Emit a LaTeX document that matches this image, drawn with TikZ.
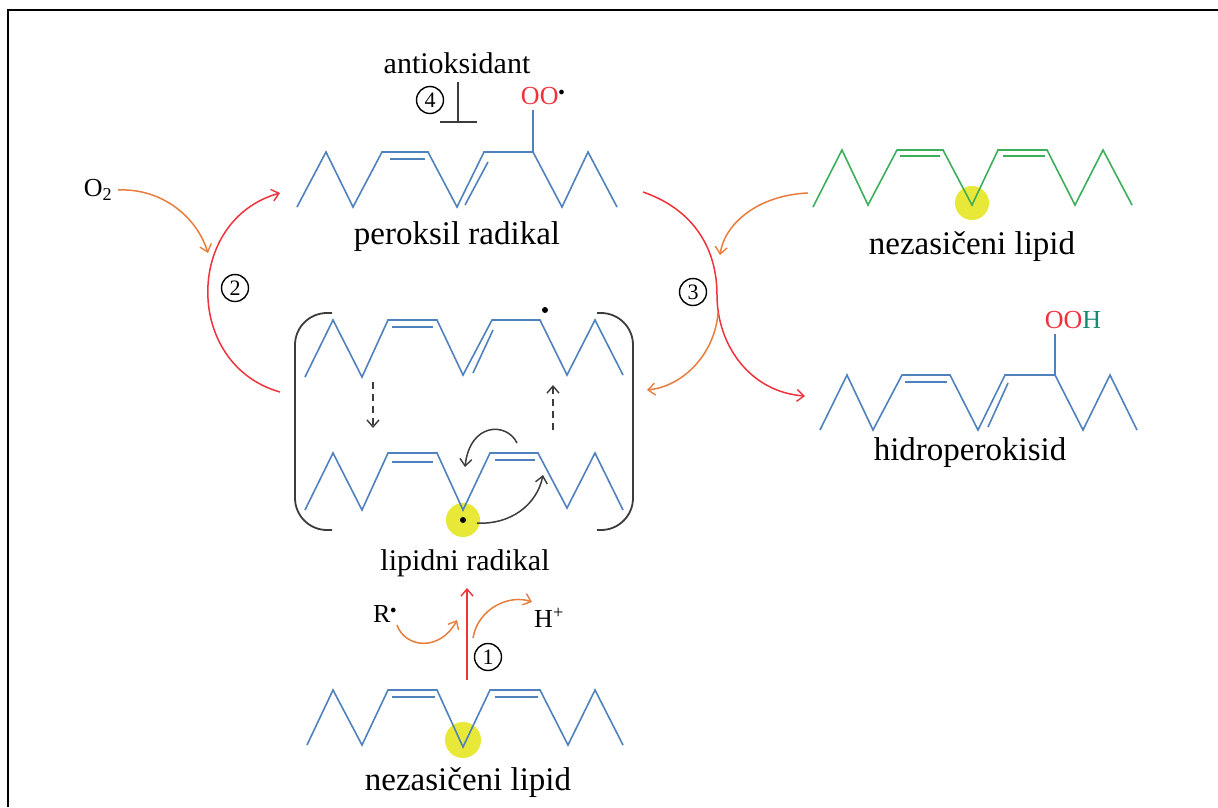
\documentclass[tikz,border=0pt]{standalone}
\usepackage{fontspec}
\setmainfont{Liberation Serif}
\usetikzlibrary{arrows.meta}
\definecolor{lblue}{RGB}{79,129,189}
\definecolor{lgreen}{RGB}{60,175,90}
\definecolor{lred}{RGB}{240,50,60}
\definecolor{lorange}{RGB}{232,125,60}
\definecolor{lyellow}{RGB}{232,232,56}
\definecolor{lteal}{RGB}{20,140,110}
\definecolor{lgray}{RGB}{60,60,60}
\newcommand{\raddot}{\textsuperscript{$\scriptstyle\bullet$}}
\tikzset{
  chainb/.style={draw=lblue, line width=1.6},
  chaing/.style={draw=lgreen, line width=1.6},
  hl/.style={fill=lyellow, draw=none},
  bigl/.style={inner sep=0pt, font=\fontsize{33}{38}\selectfont},
  midl/.style={inner sep=0pt, font=\fontsize{30}{34}\selectfont},
  smll/.style={inner sep=0pt, font=\fontsize{26}{30}\selectfont},
  numc/.style={circle, draw=black, line width=1.4, inner sep=0pt, minimum size=27pt, font=\fontsize{22}{24}\selectfont},
  tip/.style={-{Straight Barb[length=7pt,width=12pt,line width=1.4pt]}},
  redarr/.style={tip, draw=lred, line width=1.5},
  orarr/.style={tip, draw=lorange, line width=1.5},
  blkarr/.style={tip, draw=lgray, line width=1.5},
  brack/.style={draw=lgray, line width=1.8, rounded corners=32pt},
}
\begin{document}
\begin{tikzpicture}[x=1pt,y=-1pt]
\useasboundingbox (0,0) rectangle (1218,807);
% frame
\draw[line width=2] (8,807) -- (8,10) -- (1218,10);

% highlights
\fill[hl] (463,520) circle (17);
\fill[hl] (463,740) circle (18);
\fill[hl] (972,203) circle (17);

% peroxyl radical
\draw[chainb] (297,207) -- (326,152) -- (353,207) -- (382,152) -- (428,152) -- (457,207) -- (484,152) -- (533,152) -- (562,207) -- (588,152) -- (617,207);
\draw[chainb] (533,152) -- (533,110);
\draw[chainb] (390,159) -- (425,159);
\draw[chainb] (465,205) -- (488,162);
\node[smll] (oo) at (543,96) {\textcolor{lred}{OO}\raddot};
\node[midl] (anti) at (457,63) {antioksidant};
\node[numc] (n4) at (430,100) {4};
\coordinate (inhA) at (458,82);
\coordinate (inhB) at (458,122);
\draw[lgray, line width=1.5] (inhA) -- (inhB);
\draw[lgray, line width=1.5] ([xshift=-18pt]inhB) -- ([xshift=19pt]inhB);
\node[bigl] (perlab) at (457,237) {peroksil radikal};

% lipid radical (bracket)
\draw[chainb] (305,377) -- (333,320) -- (362,377) -- (388,320) -- (437,320) -- (463,375) -- (492,320) -- (540,320) -- (567,375) -- (595,320) -- (623,375);
\draw[chainb] (392,327) -- (433,327);
\draw[chainb] (473,373) -- (493,330);
\fill[black] (545,310) circle (3);
\draw[chainb] (305,510) -- (333,453) -- (362,510) -- (388,453) -- (437,453) -- (463,510) -- (490,453) -- (538,453) -- (567,508) -- (595,453) -- (623,510);
\draw[chainb] (392,462) -- (433,462);
\draw[chainb] (495,460) -- (535,460);
\fill[black] (463,520) circle (3);
\draw[brack] (332,313) -- (295,313) -- (295,530) -- (332,530);
\draw[brack] (597,313) -- (633,313) -- (633,530) -- (597,530);
\coordinate (dA1) at (373,382); \coordinate (dA2) at (373,428);
\coordinate (dB1) at (553,430); \coordinate (dB2) at (553,385);
\draw[blkarr, dashed, dash pattern=on 7pt off 5pt] (dA1) -- (dA2);
\draw[blkarr, dashed, dash pattern=on 7pt off 5pt] (dB1) -- (dB2);
\coordinate (cA1) at (517,443); \coordinate (cA2) at (465,467);
\draw[blkarr] (cA1) .. controls (507,422) and (470,422) .. (cA2);
\coordinate (cB1) at (477,523); \coordinate (cB2) at (543,475);
\draw[blkarr] (cB1) .. controls (510,525) and (537,505) .. (cB2);
\node[midl] (liplab) at (465,563) {lipidni radikal};

% bottom unsaturated lipid
\draw[chainb] (307,745) -- (333,690) -- (362,745) -- (388,690) -- (437,690) -- (463,747) -- (490,690) -- (540,690) -- (568,745) -- (595,690) -- (623,745);
\draw[chainb] (392,697) -- (435,697);
\draw[chainb] (495,697) -- (538,697);
\node[bigl] (nez1) at (468,783) {nezasičeni lipid};

% step 1
\coordinate (r1a) at (467,680); \coordinate (r1b) at (467,588);
\draw[redarr] (r1a) -- (r1b);
\node[smll] (rdot) at (385,614) {R\raddot};
\node[smll] (hplus) at (549,618) {H\textsuperscript{+}};
\coordinate (ra1) at (397,625); \coordinate (ra2) at (457,620);
\draw[orarr] (ra1) .. controls (405,648) and (440,652) .. (ra2);
\coordinate (ha1) at (473,638); \coordinate (ha2) at (532,602);
\draw[orarr] (ha1) .. controls (478,608) and (510,594) .. (ha2);
\node[numc] (n1) at (488,657) {1};

% step 2
\node[smll] (o2) at (98,190) {O\textsubscript{2}};
\coordinate (oa1) at (118,190); \coordinate (oa2) at (208,253);
\draw[orarr] (oa1) .. controls (160,188) and (196,215) .. (oa2);
\coordinate (s2a) at (280,392); \coordinate (s2b) at (280,193);
\draw[redarr] (s2a) .. controls (184,365) and (184,220) .. (s2b);
\node[numc] (n2) at (235,288) {2};

% step 3
\coordinate (s3a) at (643,192); \coordinate (s3m) at (717,295); \coordinate (s3b) at (805,396);
\draw[redarr] (s3a) .. controls (695,210) and (717,250) .. (s3m) .. controls (717,345) and (750,392) .. (s3b);
\coordinate (o3a) at (808,193); \coordinate (o3b) at (720,255);
\draw[orarr] (o3a) .. controls (760,195) and (725,222) .. (o3b);
\coordinate (o3c) at (718,313); \coordinate (o3d) at (647,390);
\draw[orarr] (o3c) .. controls (715,352) and (685,386) .. (o3d);
\node[numc] (n3) at (693,292) {3};

% green unsaturated lipid
\draw[chaing] (813,207) -- (842,150) -- (868,205) -- (897,150) -- (943,150) -- (972,205) -- (998,150) -- (1047,150) -- (1075,205) -- (1103,150) -- (1132,205);
\draw[chaing] (900,156) -- (940,156);
\draw[chaing] (1003,156) -- (1045,156);
\node[bigl] (nez2) at (972,247) {nezasičeni lipid};

% hydroperoxide
\draw[chainb] (820,430) -- (847,375) -- (873,430) -- (902,375) -- (950,375) -- (978,430) -- (1005,375) -- (1055,375) -- (1083,430) -- (1110,375) -- (1137,430);
\draw[chainb] (1055,375) -- (1055,334);
\draw[chainb] (905,382) -- (947,382);
\draw[chainb] (988,427) -- (1008,383);
\node[smll] (ooh) at (1073,320) {\textcolor{lred}{OO}\textcolor{lteal}{H}};
\node[bigl] (hidro) at (970,453) {hidroperokisid};
\end{tikzpicture}
\end{document}
